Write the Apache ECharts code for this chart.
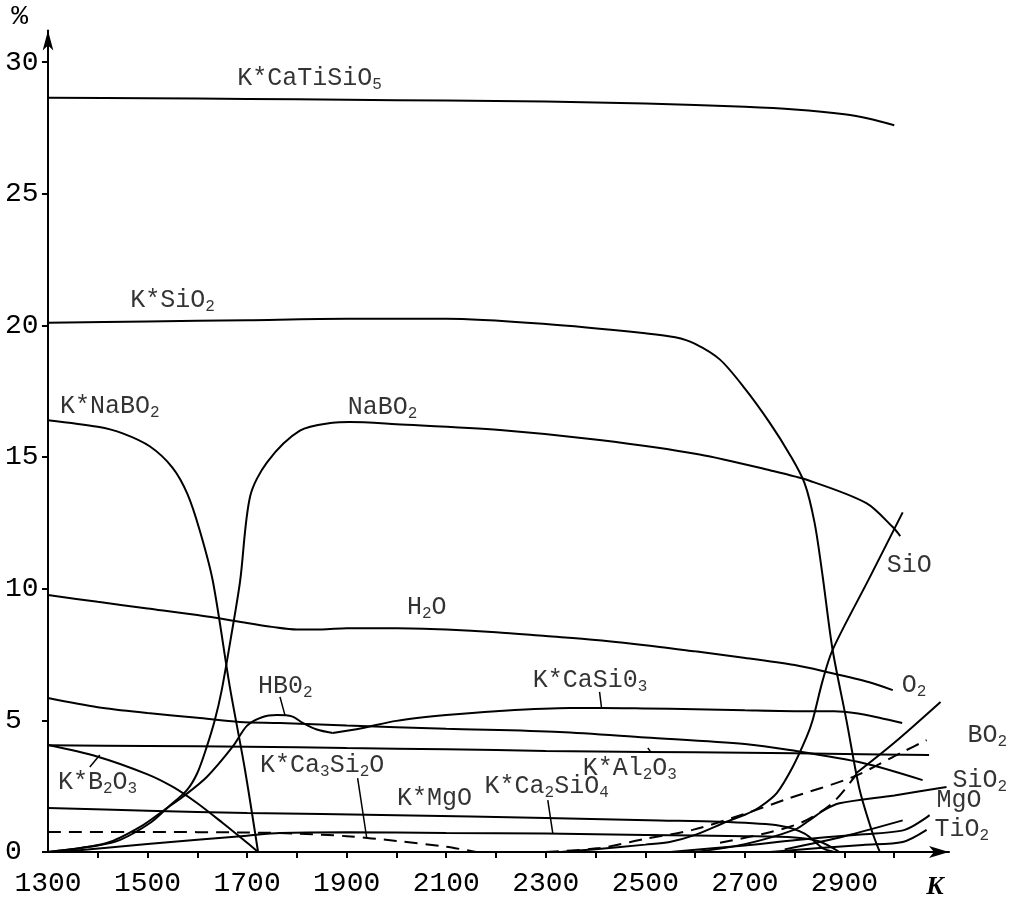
<!DOCTYPE html>
<html><head><meta charset="utf-8">
<script src="https://cdn.jsdelivr.net/npm/echarts@6/dist/echarts.min.js"></script>
<style>html,body{margin:0;padding:0;background:#fff}#c{width:1010px;height:906px}</style>
</head><body><div id="c"></div>
<script>
// ---- axis ticks / labels ----
const xTickValues = [1400,1500,1600,1700,1800,1900,2000,2100,2200,2300,2400,2500,2600,2700,2800,2900,3000];
const xLabelValues = [1300,1500,1700,1900,2100,2300,2500,2700,2900];
const yLabelValues = [0,5,10,15,20,25,30];

// ---- curves (temperature K, percent) ----
const kCaTiSiO5 = [[1300,28.65],[1500,28.63],[1700,28.6],[1900,28.57],[2100,28.54],[2300,28.5],[2500,28.43],[2700,28.3],[2800,28.2],[2900,28.02],[2950,27.85],[3000,27.6]];
const kSiO2 = [[1300,20.1],[1500,20.15],[1700,20.2],[1900,20.25],[2100,20.25],[2300,20.05],[2500,19.7],[2560,19.55],[2600,19.3],[2650,18.7],[2700,17.6],[2750,16.3],[2790,15.1],[2820,14.0],[2840,12.5],[2856,10.5],[2876,7.7],[2904,5.0],[2930,2.4],[2955,0.8],[2971,0]];
const kNaBO2 = [[1300,16.4],[1400,16.15],[1450,15.9],[1505,15.4],[1550,14.6],[1580,13.6],[1605,12.2],[1631,10.3],[1665,6.3],[1695,3.2],[1722,0]];
const naBO2 = [[1300,0],[1400,0.25],[1445,0.46],[1505,1.1],[1541,1.7],[1579,2.35],[1600,3.0],[1619,4.0],[1635,5.0],[1649,6.15],[1668,8.2],[1686,10.3],[1706,13.5],[1740,14.8],[1806,16.0],[1872,16.3],[1906,16.33],[2000,16.25],[2208,16.03],[2408,15.65],[2609,15.1],[2750,14.5],[2830,14.1],[2944,13.25],[2997,12.34],[3012,12.0]];
const h2o = [[1300,9.76],[1400,9.5],[1500,9.25],[1600,9.0],[1700,8.7],[1750,8.55],[1800,8.45],[1850,8.45],[1900,8.5],[2000,8.5],[2100,8.45],[2200,8.35],[2300,8.2],[2400,8.05],[2529,7.79],[2600,7.62],[2690,7.4],[2800,7.1],[2864,6.84],[2950,6.45],[2997,6.15]];
const sio = [[2330,0],[2400,0.1],[2500,0.28],[2549,0.38],[2600,0.65],[2663,1.15],[2704,1.45],[2730,1.71],[2764,2.24],[2796,3.23],[2824,4.37],[2836,5.0],[2856,6.5],[2876,7.67],[2950,10.4],[3017,12.9]];
const hbo2 = [[1300,0],[1418,0.34],[1485,0.95],[1539,1.67],[1571,2.1],[1619,2.85],[1671,4.0],[1700,4.8],[1730,5.12],[1760,5.2],[1790,5.15],[1812,4.9],[1840,4.65],[1872,4.52]];
const kCaSiO3 = [[1872,4.52],[1930,4.7],[2000,4.98],[2100,5.2],[2200,5.35],[2348,5.47],[2412,5.47],[2500,5.45],[2600,5.42],[2700,5.38],[2800,5.35],[2880,5.35],[2930,5.25],[2970,5.1],[3016,4.9]];
const declining58 = [[1300,5.85],[1400,5.5],[1500,5.28],[1600,5.1],[1685,4.94],[1766,4.9],[1900,4.8],[2100,4.68],[2328,4.56],[2500,4.35],[2700,4.1],[2790,3.87],[2937,3.38],[3057,2.73]];
const kAl2O3 = [[1300,4.05],[1500,4.03],[1700,4.0],[1900,3.95],[2100,3.9],[2300,3.84],[2500,3.8],[2700,3.77],[2900,3.72],[3070,3.68]];
const kB2O3 = [[1300,4.06],[1400,3.62],[1500,2.95],[1551,2.47],[1600,1.85],[1651,1.1],[1700,0.35],[1722,0]];
const kMgO = [[1300,1.67],[1500,1.57],[1700,1.48],[2000,1.4],[2300,1.29],[2529,1.2],[2650,1.15],[2770,1.0],[2820,0.7],[2856,0.15],[2880,0]];
const kCa3Si2O = [[1300,0.76],[1500,0.76],[1700,0.74],[1800,0.7],[1900,0.6],[2000,0.42],[2100,0.2],[2160,0]];
const kCa2SiO4 = [[1324,0],[1500,0.3],[1700,0.62],[1766,0.72],[1900,0.75],[2100,0.72],[2300,0.7],[2500,0.65],[2700,0.6],[2800,0.55],[2850,0.4],[2890,0]];
const upperRise = [[2924,3.0],[3000,4.15],[3093,5.7]];
const lowerDash = [[2650,0.35],[2750,0.75],[2816,1.14],[2876,1.86],[2924,2.95]];
const bo2 = [[2300,0],[2408,0.15],[2500,0.5],[2595,0.84],[2700,1.45],[2790,2.05],[2917,2.85],[3017,3.8],[3065,4.25]];
const sio2 = [[2600,0],[2700,0.3],[2800,0.85],[2830,1.21],[2860,1.6],[2890,1.85],[3000,2.15],[3105,2.47]];
const mgo = [[2550,0],[2700,0.25],[2804,0.46],[2920,0.65],[3021,0.84],[3071,1.4]];
const tio2 = [[2750,0],[2850,0.15],[2937,0.27],[3017,0.38],[3065,0.84]];
const riseB = [[2780,0.1],[2900,0.6],[3017,1.2]];

// ---- text annotations (label anchor in data units) ----
const annotations = [
  {text:'K*CaTiSiO{s|5}', at:[1680,29.4]},
  {text:'K*SiO{s|2}', at:[1465,20.96]},
  {text:'K*NaBO{s|2}', at:[1324,16.94]},
  {text:'NaBO{s|2}', at:[1902,16.9]},
  {text:'H{s|2}O', at:[2021,9.3]},
  {text:'SiO', at:[2985,10.9]},
  {text:'O{s|2}', at:[3015,6.34]},
  {text:'HB0{s|2}', at:[1722,6.3]},
  {text:'K*CaSi0{s|3}', at:[2274,6.53]},
  {text:'BO{s|2}', at:[3147,4.44]},
  {text:'SiO{s|2}', at:[3117,2.73]},
  {text:'MgO', at:[3085,1.97]},
  {text:'TiO{s|2}', at:[3081,0.87]},
  {text:'K*B{s|2}O{s|3}', at:[1320,2.65]},
  {text:'K*Ca{s|3}Si{s|2}O', at:[1726,3.3]},
  {text:'K*MgO', at:[2001,2.05]},
  {text:'K*Ca{s|2}SiO{s|4}', at:[2177,2.5]},
  {text:'K*Al{s|2}O{s|3}', at:[2374,3.19]}
];
const leaders = [
  [[1766,5.89],[1776,5.2]],
  [[2408,6.08],[2412,5.47]],
  [[1384,3.23],[1404,3.68]],
  [[1922,2.81],[1940,0.57]],
  [[2304,1.97],[2314,0.72]],
  [[2505,3.95],[2510,3.82]]
];
const bo2Arrow = [[3138,4.45],[3040,4.05]];

const FONT = 'Liberation Mono';
function curve(name, data, dashed) {
  return {
    name, type:'line', data, smooth:0.3, showSymbol:false, symbol:'none', silent:true,
    clip:false,
    lineStyle:{color:'#000', width:2, type: dashed ? [13,8] : 'solid'}
  };
}
const series = [
  curve('K*CaTiSiO5', kCaTiSiO5),
  curve('K*SiO2', kSiO2),
  curve('K*NaBO2', kNaBO2),
  curve('NaBO2', naBO2),
  curve('H2O', h2o),
  curve('SiO', sio),
  curve('HBO2', hbo2),
  curve('K*CaSiO3', kCaSiO3),
  curve('declining', declining58),
  curve('K*Al2O3', kAl2O3),
  curve('K*B2O3', kB2O3),
  curve('K*MgO', kMgO),
  curve('K*Ca3Si2O', kCa3Si2O, true),
  curve('K*Ca2SiO4', kCa2SiO4),
  curve('upperRise', upperRise),
  curve('lowerDash', lowerDash, true),
  curve('BO2', bo2, true),
  curve('SiO2', sio2),
  curve('MgO', mgo),
  curve('TiO2', tio2),
  curve('riseB', riseB)
];
leaders.forEach((l,i)=>series.push({name:'leader'+i, type:'line', data:l, showSymbol:false, symbol:'none', silent:true, clip:false, lineStyle:{color:'#000', width:1.5}}));
series.push({name:'bo2arrow', type:'line', data:[], silent:true,
  markLine:{silent:true, symbol:['none','arrow'], symbolSize:[10,14], label:{show:false},
    lineStyle:{color:'#000', width:1.5, type:'solid'},
    data:[[{coord:bo2Arrow[0]},{coord:bo2Arrow[1]}]]}});
series.push({
  name:'labels', type:'scatter', symbolSize:0, silent:true, clip:false,
  data: annotations.map(a=>({value:a.at, text:a.text})),
  label:{show:true, position:'right', distance:0, color:'#000', fontFamily:FONT, fontSize:25,
    formatter: p => p.data.text,
    rich:{s:{fontFamily:FONT, fontSize:16, verticalAlign:'bottom', color:'#000', padding:[0,0,-2,0]}}}
});

const chart = echarts.init(document.getElementById('c'), null, {renderer:'canvas'});
chart.setOption({
  backgroundColor:'#fff',
  animation:false,
  grid:{left:48, right:61, top:30.5, bottom:54, containLabel:false, outerBoundsMode:'none'},
  xAxis:{type:'value', min:1300, max:3110,
    name:'K', nameLocation:'end', nameGap:-14,
    nameTextStyle:{fontFamily:'Liberation Serif', fontStyle:'italic', fontWeight:'bold', fontSize:26, color:'#000', align:'center', verticalAlign:'top', padding:[22,0,0,0]},
    axisLine:{lineStyle:{color:'#000', width:2}, symbol:['none','arrow'], symbolSize:[9,20]},
    axisTick:{show:true, length:6, lineStyle:{color:'#000', width:2}, customValues:xTickValues},
    axisLabel:{color:'#000', fontFamily:FONT, fontSize:28, margin:18, customValues:xLabelValues, formatter: v => String(v)},
    splitLine:{show:false}},
  yAxis:{type:'value', min:0, max:31.2,
    name:'%', nameLocation:'end', nameGap:0,
    nameTextStyle:{fontFamily:FONT, fontSize:28, color:'#000', align:'right', padding:[0,20,0,0]},
    axisLine:{lineStyle:{color:'#000', width:2}, symbol:['none','arrow'], symbolSize:[8,20]},
    axisTick:{show:true, length:6, lineStyle:{color:'#000', width:2}, customValues:yLabelValues},
    axisLabel:{color:'#000', fontFamily:FONT, fontSize:28, margin:43, align:'left', customValues:yLabelValues, formatter: v => String(v)},
    splitLine:{show:false}},
  series
});
</script></body></html>
